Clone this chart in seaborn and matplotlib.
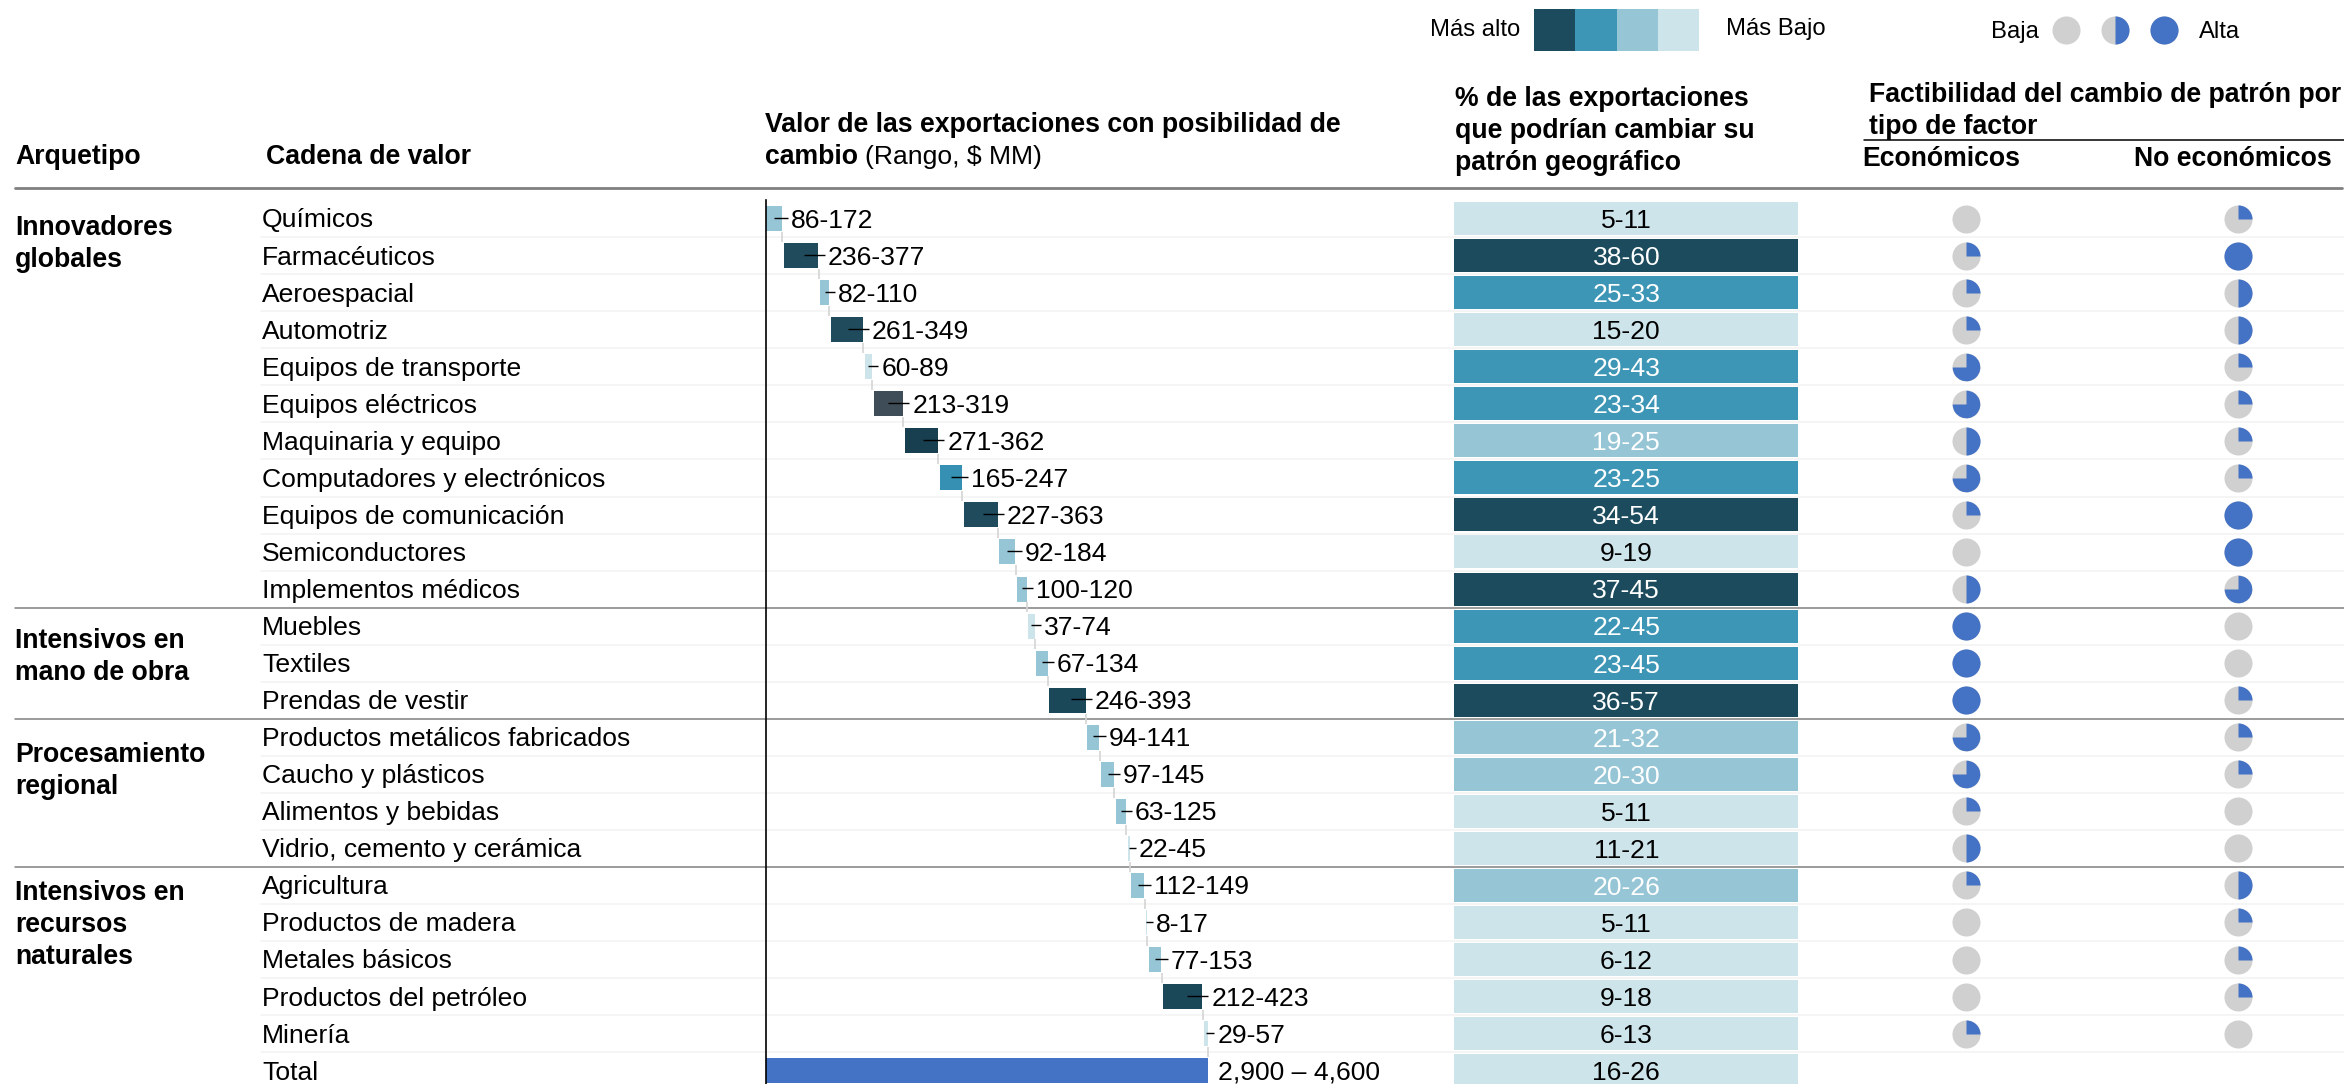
import matplotlib
matplotlib.use("Agg")
import matplotlib.pyplot as plt
from matplotlib.path import Path
import numpy as np
import seaborn as sns

sns.set_theme(style="white")
plt.rcParams["font.family"] = ["Liberation Sans", "DejaVu Sans"]

W, H = 2344, 1084

chains = ["Químicos", "Farmacéuticos", "Aeroespacial", "Automotriz", "Equipos de transporte",
          "Equipos eléctricos", "Maquinaria y equipo", "Computadores y electrónicos",
          "Equipos de comunicación", "Semiconductores", "Implementos médicos", "Muebles",
          "Textiles", "Prendas de vestir", "Productos metálicos fabricados", "Caucho y plásticos",
          "Alimentos y bebidas", "Vidrio, cemento y cerámica", "Agricultura", "Productos de madera",
          "Metales básicos", "Productos del petróleo", "Minería", "Total"]
range_labels = ["86-172", "236-377", "82-110", "261-349", "60-89", "213-319", "271-362", "165-247",
                "227-363", "92-184", "100-120", "37-74", "67-134", "246-393", "94-141", "97-145",
                "63-125", "22-45", "112-149", "8-17", "77-153", "212-423", "29-57", "2,900 – 4,600"]
# bar lengths, $ MM
bar_values = [148, 321, 80, 299, 68, 271, 308, 206, 312, 148, 89, 56, 105, 336, 111, 117, 95, 19,
              120, 5, 120, 361, 37]
bar_colors = ["#96C5D6", "#1F4B5C", "#96C5D6", "#1F4B5C", "#CDE4EB", "#3F4D58", "#173F4F", "#3590B3",
              "#1F4B5C", "#96C5D6", "#96C5D6", "#CDE4EB", "#96C5D6", "#1B4859", "#96C5D6", "#96C5D6",
              "#96C5D6", "#CDE4EB", "#96C5D6", "#CDE4EB", "#96C5D6", "#1B4859", "#CDE4EB", "#4472C4"]
pct_labels = ["5-11", "38-60", "25-33", "15-20", "29-43", "23-34", "19-25", "23-25", "34-54", "9-19",
              "37-45", "22-45", "23-45", "36-57", "21-32", "20-30", "5-11", "11-21", "20-26", "5-11",
              "6-12", "9-18", "6-13", "16-26"]
pct_levels = [3, 0, 1, 3, 1, 1, 2, 1, 0, 3, 0, 1, 1, 0, 2, 2, 3, 3, 2, 3, 3, 3, 3, 3]
level_colors = ["#1B4B5C", "#3E96B6", "#96C5D6", "#CDE4EB"]
econ_share = [0, .25, .25, .25, .75, .75, .5, .75, .25, 0, .5, 1, 1, 1, .75, .75, .25, .5, .25, 0, 0, 0, .25]
nonecon_share = [.25, 1, .5, .5, .25, .25, .25, .25, 1, 1, .75, 0, 0, .25, .25, .25, 0, 0, .5, .25, .25, .25, 0]
archetypes = ["Innovadores\nglobales", "Intensivos en\nmano de obra", "Procesamiento\nregional",
              "Intensivos en\nrecursos\nnaturales"]

GREY = "#D0D0D0"
BLUE = "#4472C4"
TXT = 19.05
BOLD = 19.2
ROW = 37.05
PX = 1 / 0.108  # $ MM per pixel on the waterfall
PIE = 20.2 ** 2


def row_y(i):
    return 218.5 + ROW * i


def row_axes(left, right):
    ax = fig.add_axes([left / W, 0, (right - left) / W, (H - 200) / H])
    ax.set_facecolor("none")
    return ax


def draw_pies(ax, x, y, share):
    x, y, share = np.array(x, float), np.array(y, float), np.array(share)
    sns.scatterplot(x=x, y=y, s=PIE, color=GREY, linewidth=0, legend=False, ax=ax)
    for f in [.25, .5, .75, 1]:
        keep = share == f
        if keep.any():
            marker = "o" if f == 1 else Path.wedge(90 - 360 * f, 90)
            sns.scatterplot(x=x[keep], y=y[keep], s=PIE, color=BLUE, marker=marker, linewidth=0,
                            legend=False, ax=ax)


fig = plt.figure(figsize=(W / 100, H / 100), dpi=100)

# page layer: texts and rules
page = fig.add_axes([0, 0, 1, 1], zorder=0)
page.set_xlim(0, W)
page.set_ylim(H, 0)
page.axis("off")

for i in range(23):
    if i in (10, 13, 17):
        page.plot([15, W], [row_y(i) + 18.7] * 2, color="#808080", lw=1.1)
    else:
        page.plot([261, W], [row_y(i) + 18.7] * 2, color="#F2F2F2", lw=1.1)
page.plot([15, W - 2], [187.7, 187.7], color="#808080", lw=2)
page.plot([1864, W], [139.5, 139.5], color="black", lw=1.1)

for i, name in enumerate(chains):
    page.text(262, row_y(i) + 2, name, fontsize=TXT, va="center", color="black")

arch_y = [228, 640.5, 754.5, 893.5]
for label, y in zip(archetypes, arch_y):
    for k, line in enumerate(label.split("\n")):
        page.text(15, y + 32 * k, line, fontsize=BOLD, fontweight="bold", va="center", color="black")

for x, y, s in [(15, 157, "Arquetipo"), (265.5, 157, "Cadena de valor"),
                (765, 124.5, "Valor de las exportaciones con posibilidad de"),
                (1455, 98.5, "% de las exportaciones"), (1455, 131, "que podrían cambiar su"),
                (1455, 163.5, "patrón geográfico"),
                (1869, 94.5, "Factibilidad del cambio de patrón por"), (1869, 127, "tipo de factor"),
                (1862, 158.5, "Económicos"), (2134, 158.5, "No económicos")]:
    page.text(x, y, s, fontsize=BOLD, fontweight="bold", va="center", color="black")
bold_part = page.text(765, 157, "cambio", fontsize=BOLD, fontweight="bold", va="center", color="black")
fig.canvas.draw()
end_px = bold_part.get_window_extent().x1
page.text(end_px + 7, 157, "(Rango, $ MM)", fontsize=TXT, va="center", color="black")

# legends
page.text(1430.5, 29.5, "Más alto", fontsize=17.2, va="center", color="black")
page.text(1726, 29.5, "Más Bajo", fontsize=17.2, va="center", color="black")
page.text(1991, 32, "Baja", fontsize=17.2, va="center", color="black")
page.text(2199, 32, "Alta", fontsize=17.2, va="center", color="black")
for k, c in enumerate(level_colors):
    page.fill_between([1534 + 41.3 * k, 1534 + 41.3 * (k + 1)], 9, 51, color=c, linewidth=0)
draw_pies(page, [2066, 2115, 2164], [30, 30, 30], [0, .5, 1])
page.set_xlim(0, W)
page.set_ylim(H, 0)
page.axis("off")

# waterfall
ax = row_axes(766, 1454)
gap = 1.77 * PX
values = np.array(bar_values, float)
starts = np.concatenate([[0], np.cumsum(values + gap)[:-1]])
ends = starts + values
total = ends[-1]
all_starts = np.append(starts, 0)
all_values = np.append(values, total)

sns.barplot(x=all_values, y=chains, hue=chains, palette=bar_colors, width=25 / ROW, saturation=1,
            linewidth=0, legend=False, ax=ax)
for patch, start in zip(ax.patches, all_starts):
    patch.set_x(start)

for i in range(23):
    ax.vlines(ends[i] + 0.4 * PX, i + 0.36, i + 0.36 + 10 / ROW, color="#D4D4D4", lw=1.2)
    tick_end = ends[i] + 6.2 * PX
    tick_start = max(starts[i] + values[i] / 2, tick_end - 21 * PX)
    ax.hlines(i - 0.02, tick_start, tick_end, color="black", lw=1)
    ax.text(tick_end + 3 * PX, i + 0.055, range_labels[i], fontsize=TXT, va="center", color="black")
ax.text(total + 10 * PX, 23 + 0.055, range_labels[23], fontsize=TXT, va="center", color="black")

ax.set_xlim(0, 688 * PX)
ax.set_ylim(23.36, -0.5)
ax.set(xlabel="", ylabel="", xticks=[], yticks=[])
sns.despine(ax=ax, bottom=True)
ax.spines["left"].set_color("black")
ax.spines["left"].set_linewidth(1.2)

# percent column
ax2 = row_axes(1454, 1798.5)
sns.barplot(x=[1] * 24, y=chains, hue=chains, palette=[level_colors[k] for k in pct_levels],
            width=33 / ROW, saturation=1, linewidth=0, legend=False, ax=ax2)
for i, (label, level) in enumerate(zip(pct_labels, pct_levels)):
    ax2.text(0.5, i + 0.065, label, fontsize=TXT, ha="center", va="center",
             color="black" if level == 3 else "white")
ax2.set_xlim(0, 1)
ax2.set_ylim(23.36, -0.5)
ax2.axis("off")

# feasibility pies
ax3 = row_axes(1864, W)
rows = np.arange(23)
draw_pies(ax3, np.r_[np.zeros(23), np.ones(23)], np.r_[rows, rows], econ_share + nonecon_share)
ax3.set_xlim(-(1965.7 - 1864) / 272.3, (W - 1965.7) / 272.3)
ax3.set_ylim(23.36, -0.5)
ax3.axis("off")

fig.savefig("out.png", dpi=100, facecolor="white")
